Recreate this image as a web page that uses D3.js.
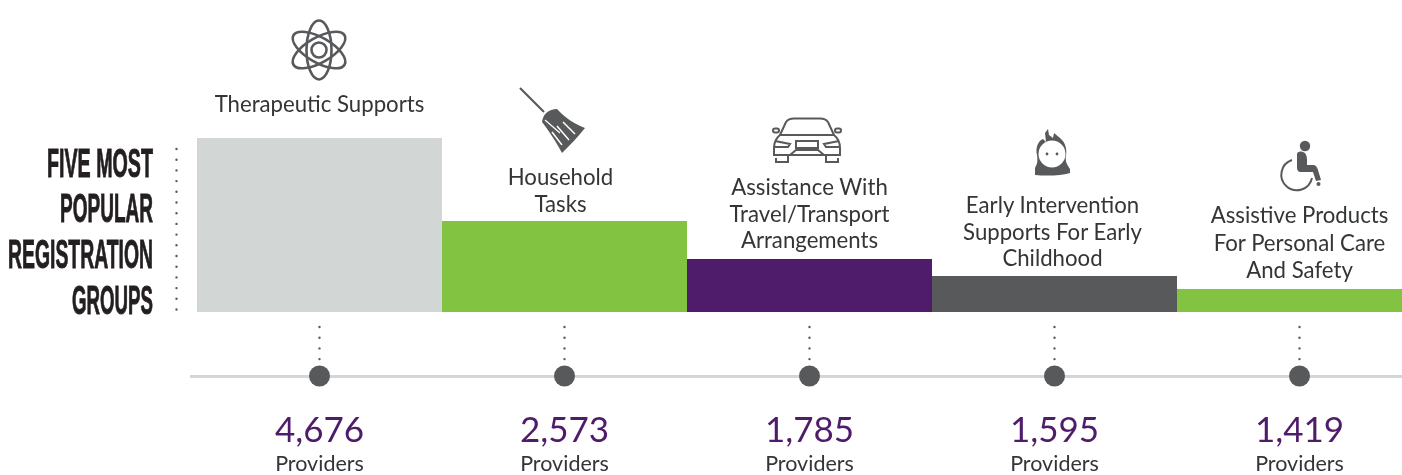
<!DOCTYPE html>
<html>
<head>
<meta charset="utf-8">
<script src="https://cdn.jsdelivr.net/npm/d3@7/dist/d3.min.js"></script>
<style>
    html, body { margin: 0; padding: 0; background: #fff; overflow: hidden; }
    /* the reference is a soft, upscaled picture */
    svg { display: block; filter: blur(0.45px); }
    text { font-family: Lato, "Open Sans", sans-serif; }
</style>
</head>
<body>
<div class="chart"></div>
<script>
const categories = ['Therapeutic Supports', 'Household Tasks', 'Assistance With Travel/Transport Arrangements',
    'Early Intervention Supports For Early Childhood', 'Assistive Products For Personal Care And Safety'];
const providers = [4676, 2573, 1785, 1595, 1419];
const labelLines = [
    ['Therapeutic Supports'],
    ['Household', 'Tasks'],
    ['Assistance With', 'Travel/Transport', 'Arrangements'],
    ['Early Intervention', 'Supports For Early', 'Childhood'],
    ['Assistive Products', 'For Personal Care', 'And Safety']
];
const titleLines = ['FIVE MOST', 'POPULAR', 'REGISTRATION', 'GROUPS'];
const unitLabel = 'Providers';

const width = 1402, height = 475;
const baseline = 312;
const grey = '#58595b', light = '#d2d6d5', purple = '#4f1c6b', green = '#82c341';
const barColors = [light, green, purple, grey, green];

const svg = d3.select('.chart').append('svg')
    .attr('width', width)
    .attr('height', height);

let x = d3.scaleBand().domain(categories).range([197, 1422]);
// the bars in the picture are not proportional to their numbers,
// so the scale goes through the drawn height of each one
let y = d3.scaleLinear()
    .domain([0, 1419, 1595, 1785, 2573, 4676])
    .range([baseline, 289, 276, 259, 221, 138]);
let cx = d => x(d) + x.bandwidth() / 2;

svg.selectAll('.bar')
    .data(categories)
    .enter().append('rect')
    .attr('class', 'bar')
    .attr('x', d => x(d))
    .attr('y', (d, i) => y(providers[i]))
    .attr('width', x.bandwidth())
    .attr('height', (d, i) => baseline - y(providers[i]))
    .attr('fill', (d, i) => barColors[i]);

// left title, squeezed to look like the condensed poster face
let titleWidths = [106, 93, 145, 81];
let titleBase = [177, 222, 268, 314];
svg.selectAll('.title')
    .data(titleLines)
    .enter().append('text')
    .attr('class', 'title')
    .attr('x', 153)
    .attr('y', (d, i) => titleBase[i])
    .attr('text-anchor', 'end')
    .attr('textLength', (d, i) => titleWidths[i])
    .attr('lengthAdjust', 'spacingAndGlyphs')
    .style('font-family', '"Liberation Sans Narrow", "Liberation Sans", sans-serif')
    .style('font-weight', 700)
    .style('font-size', '40px')
    .attr('fill', '#231f20')
    .attr('stroke', '#231f20')
    .attr('stroke-width', 0.9)
    .text(d => d);

svg.append('line')
    .attr('x1', 176.5).attr('x2', 176.5)
    .attr('y1', 149).attr('y2', 312)
    .attr('stroke', grey)
    .attr('stroke-width', 2.4)
    .attr('stroke-linecap', 'round')
    .attr('stroke-dasharray', '0 10.7');

// labels sit just above the bars, the first one further up
let labelShift = [0, -4, 0, -2, 0];
let labelGap = [26, 9.5, 11, 10, 11];
let labelLeading = [27, 26.5, 26.5, 26.5, 27.5];
svg.selectAll('.label')
    .data(categories)
    .enter().append('g')
    .attr('class', 'label')
    .each(function (d, i) {
        let lines = labelLines[i];
        d3.select(this).selectAll('text')
            .data(lines)
            .enter().append('text')
            .attr('x', cx(d) + labelShift[i])
            .attr('y', (l, j) => y(providers[i]) - labelGap[i] - (lines.length - 1 - j) * labelLeading[i])
            .attr('text-anchor', 'middle')
            .style('font-size', '22.2px')
            .attr('fill', '#333536')
            .text(l => l);
    });

// timeline under the bars
svg.append('line')
    .attr('x1', 190).attr('x2', width)
    .attr('y1', 376.5).attr('y2', 376.5)
    .attr('stroke', light)
    .attr('stroke-width', 3);

svg.selectAll('.stem')
    .data(categories)
    .enter().append('line')
    .attr('class', 'stem')
    .attr('x1', cx).attr('x2', cx)
    .attr('y1', 327).attr('y2', 362)
    .attr('stroke', grey)
    .attr('stroke-width', 2.4)
    .attr('stroke-linecap', 'round')
    .attr('stroke-dasharray', '0 10.7');

svg.selectAll('.dot')
    .data(categories)
    .enter().append('circle')
    .attr('class', 'dot')
    .attr('cx', cx)
    .attr('cy', 376)
    .attr('r', 10.5)
    .attr('fill', grey);

svg.selectAll('.value')
    .data(categories)
    .enter().append('text')
    .attr('class', 'value')
    .attr('x', cx)
    .attr('y', 442)
    .attr('text-anchor', 'middle')
    .style('font-size', '35px')
    .attr('fill', purple)
    .text((d, i) => d3.format(',')(providers[i]));

svg.selectAll('.unit')
    .data(categories)
    .enter().append('text')
    .attr('class', 'unit')
    .attr('x', cx)
    .attr('y', 470.5)
    .attr('text-anchor', 'middle')
    .style('font-size', '21.5px')
    .attr('fill', '#333536')
    .text(unitLabel);

// icons
let atom = svg.append('g')
    .attr('transform', 'translate(319,50)')
    .attr('fill', 'none')
    .attr('stroke', grey)
    .attr('stroke-width', 2.6);
[0, 60, 120].forEach(a => {
    atom.append('ellipse')
        .attr('rx', 12.5)
        .attr('ry', 29.5)
        .attr('transform', 'rotate(' + a + ')');
});
atom.append('circle').attr('r', 7.5);

let broom = svg.append('g');
broom.append('line')
    .attr('x1', 520).attr('y1', 88)
    .attr('x2', 544).attr('y2', 112)
    .attr('stroke', grey)
    .attr('stroke-width', 2.2);
broom.append('path')
    .attr('d', 'M542,122 C543,114 549,109 557,109 L562,114 C570,121 577,125 585,128 C578,137 570,145 562,153 C557,143 549,131 542,122 Z')
    .attr('fill', grey);
broom.append('path')
    .attr('d', 'M557,126 L569,140 M563,122 L575,134 M552,132 L562,145')
    .attr('stroke', '#fff')
    .attr('stroke-width', 1.5);
broom.append('path')
    .attr('d', 'M545,120 L560,133')
    .attr('stroke', '#fff')
    .attr('stroke-width', 1.2)
    .attr('fill', 'none');

let car = svg.append('g')
    .attr('fill', 'none')
    .attr('stroke', grey)
    .attr('stroke-width', 2);
car.append('path').attr('d', 'M780,135 L786,122 C788,119 790,118.5 794,118.5 L820,118.5 C824,118.5 826,119 828,122 L834,135');
car.append('path').attr('d', 'M780,135 C775,139 774,143 774,148 L774,155 L840,155 L840,148 C840,143 839,139 834,135 Z');
car.append('path').attr('d', 'M780,135 L834,135');
car.append('path').attr('d', 'M776,158 V162 H788 V156 M838,158 V162 H826 V156');
car.append('path').attr('d', 'M775,141 L790,144 L788,147 L775,147 M839,141 L824,144 L826,147 L839,147');
car.append('rect').attr('x', 796).attr('y', 141).attr('width', 22).attr('height', 7);
car.append('path').attr('d', 'M790,155 L796,150 H818 L824,155');
car.append('rect').attr('x', 773).attr('y', 128.5).attr('width', 6).attr('height', 4).attr('rx', 2);
car.append('rect').attr('x', 835).attr('y', 128.5).attr('width', 6).attr('height', 4).attr('rx', 2);

let child = svg.append('g');
child.append('path')
    .attr('d', 'M1035,175 L1035,168 C1037,164 1038,162 1037,155 C1035,147 1039,140 1043,139 L1046,142 L1045,133 L1048,129 L1049,135 L1053,138 L1054,133 L1060,138 C1066,143 1067,150 1066,156 C1065,162 1067,164 1070,169 L1070,173 C1060,176 1046,176 1035,175 Z')
    .attr('fill', grey);
child.append('circle')
    .attr('cx', 1052).attr('cy', 154).attr('r', 13.5)
    .attr('fill', '#fff');
child.selectAll('.eye')
    .data([1047, 1057])
    .enter().append('circle')
    .attr('cx', d => d).attr('cy', 154).attr('r', 1.4)
    .attr('fill', grey);

let chair = svg.append('g');
chair.append('circle')
    .attr('cx', 1305).attr('cy', 146).attr('r', 5.2)
    .attr('fill', grey);
chair.append('path')
    .attr('d', 'M1297,154 C1297,152 1300,151 1303,152 C1306,153 1307,156 1307,160 L1307,165 L1313,165 C1316,165 1317,167 1318,170 L1321,180 L1316,181 L1313,172 L1301,172 C1298,172 1297,170 1297,167 Z')
    .attr('fill', grey);
chair.append('path')
    .attr('d', 'M1292,160 A15.5,15.5 0 1 0 1312,178')
    .attr('fill', 'none')
    .attr('stroke', grey)
    .attr('stroke-width', 2);
chair.append('circle')
    .attr('cx', 1318.5).attr('cy', 184).attr('r', 2)
    .attr('fill', grey);
</script>
</body>
</html>
